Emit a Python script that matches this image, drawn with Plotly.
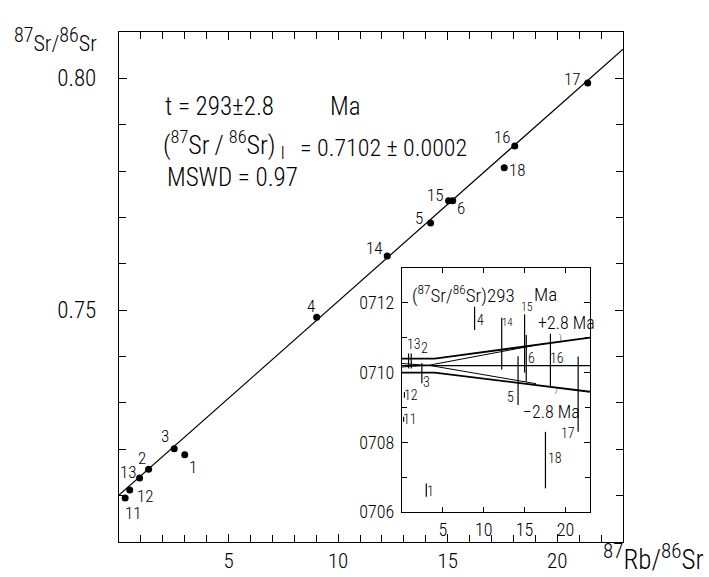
import plotly.graph_objects as go

FONT = "Roboto Condensed"
W = 300

def F(size):
    return dict(family=FONT, size=size, color="black", weight=W)

# ---- main isochron data ----
sample_ids = ["1", "2", "3", "4", "5", "6", "11", "12", "13", "14", "15", "16", "17", "18"]
rb_sr = [3.00, 1.35, 2.52, 9.02, 14.22, 15.23, 0.28, 0.49, 0.94, 12.24, 15.04, 18.06, 21.39, 17.58]
sr_sr = [0.7188, 0.7157, 0.7201, 0.7485, 0.7688, 0.7736, 0.7095, 0.7112, 0.7138, 0.7617, 0.7736, 0.7854, 0.7990, 0.7807]
# label offsets (pixels) for sample numbers
label_dx = [8, -7, -9, -6, -12, 8, 8, 16, -11, -13, -13, -12, -15, 13]
label_dy = [12, -11, -13, -11, -5, 7, 15, 6, -6, -8, -6, -9, -4, 2]

# isochron line
iso_x = [0.0, 23.0]
iso_y = [0.7101, 0.8063]

# ---- inset: initial ratios at 293 Ma ----
ins_ids = ["1", "2", "3", "4", "5", "6", "11", "12", "13", "14", "15", "16", "17", "18"]
ins_x = [2.97, 1.13, 2.43, 8.88, 14.2, 15.2, 0.2, 0.3, 0.8, 12.2, 15.0, 18.16, 21.55, 17.55]
ins_lo = [0.70644, 0.71012, 0.70969, 0.71122, 0.70907, 0.70974, 0.70859, 0.70928, 0.71012, 0.71009, 0.71000, 0.70959, 0.70830, 0.70668]
ins_hi = [0.70682, 0.71055, 0.71027, 0.71189, 0.71047, 0.71108, 0.70873, 0.70944, 0.71055, 0.71157, 0.71167, 0.71111, 0.71046, 0.70830]
ins_lab_x = [3.49, 2.70, 2.97, 9.56, 13.24, 15.87, 0.98, 1.16, 1.41, 12.93, 15.32, 19.0, 20.28, 18.69]
ins_lab_y = [0.70660, 0.71070, 0.70973, 0.71151, 0.70930, 0.71043, 0.70867, 0.70936, 0.71082, 0.71144, 0.71187, 0.71042, 0.70828, 0.70755]
ins_lab_size = [14, 14, 14, 14, 14, 14, 14, 14, 14, 11, 12, 14, 14, 14]

# curves in inset
mid_x = [0, 23]
mid_y = [0.7102, 0.7102]
up_x = [0, 4.0, 23]
up_y = [0.7104, 0.7104, 0.7110]
up_in_x = [0, 3.5, 16.0]
up_in_y = [0.71016, 0.71022, 0.71077]
lo_x = [0, 4.0, 23]
lo_y = [0.7100, 0.7100, 0.70945]
lo_in_x = [0, 3.5, 16.4]
lo_in_y = [0.71026, 0.71020, 0.70968]

fig = go.Figure()

fig.add_trace(go.Scatter(x=iso_x, y=iso_y, mode="lines",
                         line=dict(color="black", width=1.2), hoverinfo="skip"))
fig.add_trace(go.Scatter(x=rb_sr, y=sr_sr, mode="markers",
                         marker=dict(color="black", size=7)))

for sid, x, y, dx, dy in zip(sample_ids, rb_sr, sr_sr, label_dx, label_dy):
    fig.add_annotation(x=x, y=y, text=sid, showarrow=False, xshift=dx, yshift=-dy, font=F(17))

# inset traces
def seg_arrays(xs, los, his):
    X, Y = [], []
    for x, a, b in zip(xs, los, his):
        X += [x, x, None]
        Y += [a, b, None]
    return X, Y

ex, ey = seg_arrays(ins_x, ins_lo, ins_hi)
fig.add_trace(go.Scatter(x=ex, y=ey, mode="lines", line=dict(color="black", width=1.2),
                         xaxis="x2", yaxis="y2", hoverinfo="skip"))
for cx, cy, w in [(mid_x, mid_y, 1.3), (up_x, up_y, 1.8), (up_in_x, up_in_y, 1.0),
                  (lo_x, lo_y, 1.8), (lo_in_x, lo_in_y, 1.0)]:
    fig.add_trace(go.Scatter(x=cx, y=cy, mode="lines", line=dict(color="black", width=w),
                             xaxis="x2", yaxis="y2", hoverinfo="skip"))

for sid, x, y, s in zip(ins_ids, ins_lab_x, ins_lab_y, ins_lab_size):
    fig.add_annotation(x=x, y=y, xref="x2", yref="y2", text=sid, showarrow=False, font=F(s))

# inset title and curve labels
fig.add_annotation(x=0.92, y=0.71225, xref="x2", yref="y2", xanchor="left",
                   text="(<sup>87</sup>Sr/<sup>86</sup>Sr)293", showarrow=False, font=F(19))
fig.add_annotation(x=15.92, y=0.71225, xref="x2", yref="y2", xanchor="left",
                   text="Ma", showarrow=False, font=F(19))
fig.add_annotation(x=16.45, y=0.71145, xref="x2", yref="y2", xanchor="left",
                   text="+2.8 Ma", showarrow=False, font=F(18))
fig.add_annotation(x=14.5, y=0.70888, xref="x2", yref="y2", xanchor="left",
                   text="\u22122.8 Ma", showarrow=False, font=F(18))
fig.add_annotation(x=19.4, y=0.71097, xref="x2", yref="y2", text=")", showarrow=False, font=F(9))
fig.add_annotation(x=18.9, y=0.70946, xref="x2", yref="y2", text="/", showarrow=False, font=F(9))

# main texts (x in Rb/Sr units, y in Sr/Sr units)
fig.add_annotation(x=2.0, y=0.79394, xanchor="left", text="t = 293\u00b12.8", showarrow=False, font=F(25))
fig.add_annotation(x=9.52, y=0.79394, xanchor="left", text="Ma", showarrow=False, font=F(25))
fig.add_annotation(x=1.93, y=0.78499, xanchor="left", yshift=3,
                   text="(<sup>87</sup>Sr\u2009/\u2009<sup>86</sup>Sr)\u2009<sub>I</sub>", showarrow=False, font=F(26))
fig.add_annotation(x=8.15, y=0.78499, xanchor="left",
                   text="= 0.7102 \u00b1 0.0002", showarrow=False, font=F(24))
fig.add_annotation(x=2.08, y=0.77870, xanchor="left", text="MSWD = 0.97", showarrow=False, font=F(25))

# axis titles
fig.add_annotation(xref="paper", yref="paper", x=-0.2123, y=0.985, xanchor="left", yanchor="middle",
                   text="<sup><span style='font-size:20px'>87</span></sup>Sr/<sup><span style='font-size:20px'>86</span></sup>Sr",
                   showarrow=False, font=F(22))
fig.add_annotation(xref="paper", yref="paper", x=0.9563, y=-0.031, xanchor="left", yanchor="middle",
                   text="<sup><span style='font-size:21px'>87</span></sup>Rb/<sup><span style='font-size:21px'>86</span></sup>Sr",
                   showarrow=False, font=F(27))

axis_common = dict(showgrid=False, zeroline=False, showline=True, linecolor="black", automargin=False,
                   linewidth=1.2, mirror="ticks", ticks="inside", tickcolor="black", tickwidth=1.2)

fig.update_layout(
    width=709, height=577,
    margin=dict(l=119, r=86, t=32, b=35),
    paper_bgcolor="white", plot_bgcolor="white",
    showlegend=False,
    font=F(16),
    xaxis=dict(range=[0, 23], tickvals=[5, 10, 15, 20], ticklen=8,
               tickfont=F(21), ticklabelstandoff=0,
               minor=dict(dtick=1, tick0=0, ticks="inside", ticklen=7, tickcolor="black"),
               **axis_common),
    yaxis=dict(range=[0.70, 0.81], tickvals=[0.75, 0.80], ticktext=["0.75", "0.80"], ticklen=8,
               tickfont=F(23), ticklabelstandoff=17,
               minor=dict(dtick=0.01, tick0=0.70, ticks="inside", ticklen=7, tickcolor="black"),
               **axis_common),
    xaxis2=dict(domain=[0.5615, 0.9345], anchor="y2", range=[0, 23], tickvals=[5, 10, 15, 20],
                ticklen=5, tickfont=F(18), ticklabelstandoff=1, **axis_common),
    yaxis2=dict(domain=[0.0588, 0.5373], anchor="x2", range=[0.706, 0.713],
                tickvals=[0.706, 0.708, 0.710, 0.712], ticktext=["0706", "0708", "0710", "0712"],
                ticklen=6, tickfont=F(18), ticklabelstandoff=3,
                minor=dict(dtick=0.001, tick0=0.706, ticks="inside", ticklen=5, tickcolor="black"),
                **axis_common),
)

fig.write_html("out.html")
